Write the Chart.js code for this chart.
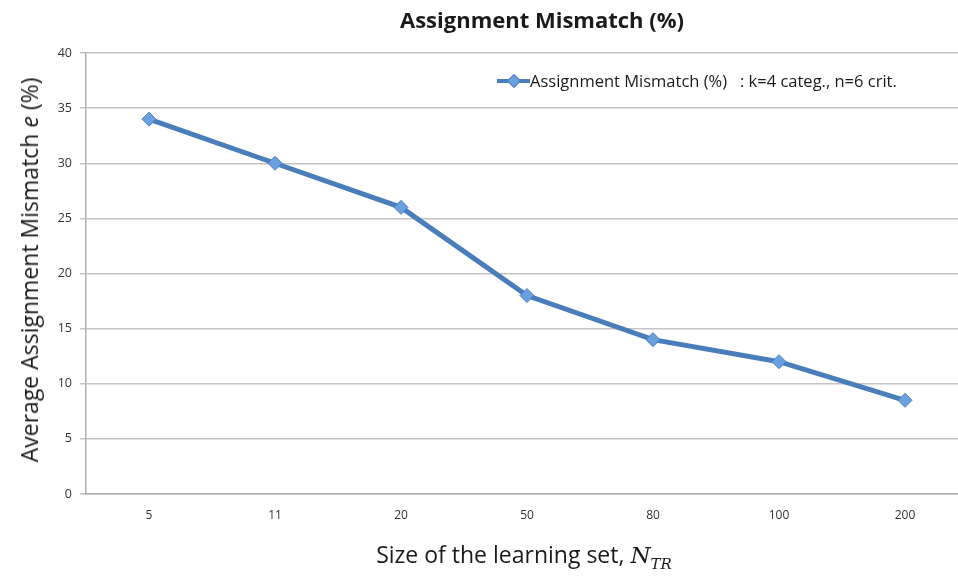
<!DOCTYPE html>
<html>
<head>
<meta charset="utf-8">
<script src="https://cdn.jsdelivr.net/npm/chart.js@4"></script>
<style>
  html, body { margin: 0; padding: 0; background: #fff; }
  #wrap { position: relative; width: 958px; height: 580px; overflow: hidden; background: #fff; }
  #c { position: absolute; left: 0; top: 0; }
  .txt { position: absolute; font-family: "Open Sans", "Liberation Sans", sans-serif; color: #1a1a1a; white-space: pre; }
  #title { left: 542px; top: 4px; transform: translateX(-50%); font-size: 22px; font-weight: bold; }
  #ytitle { left: 29px; top: 270px; transform: translate(-50%, -50%) rotate(-90deg); font-size: 23px; }
  #xtitle { left: 524px; top: 538px; transform: translateX(-50%); font-size: 23px; }
  #legend { left: 497px; top: 69px; font-size: 16.5px; display: flex; align-items: center; }
  .sw { position: relative; width: 33px; height: 12px; margin-right: 0px; }
  .sw .ln { position: absolute; left: 0; right: 0; top: 4px; height: 4px; background: #4a7ebb; }
  .sw .mk { position: absolute; left: 12px; top: 1px; width: 8px; height: 8px; background: #6a9fe0; border: 1px solid #4a7ebb; transform: rotate(45deg); }
  .m { font-family: "DejaVu Serif", serif; font-style: italic; }
</style>
</head>
<body>
<div id="wrap">
  <canvas id="c" width="976" height="580"></canvas>
  <div id="title" class="txt">Assignment Mismatch (%)</div>
  <div id="ytitle" class="txt">Average Assignment Mismatch <i>e</i> (%)</div>
  <div id="xtitle" class="txt">Size of the learning set, <span class="m">N</span><sub class="m" style="font-size:15px">TR</sub></div>
  <div id="legend" class="txt"><span class="sw"><span class="ln"></span><span class="mk"></span></span><span id="legtext"></span></div>
</div>
<script>
const categories = ["5", "11", "20", "50", "80", "100", "200"];
const mismatch = [34, 30, 26, 18, 14, 12, 8.5];
const seriesLabel = "Assignment Mismatch (%)   : k=4 categ., n=6 crit.";
const yTicks = [0, 5, 10, 15, 20, 25, 30, 35, 40];

document.getElementById('legtext').textContent = seriesLabel;

new Chart(document.getElementById('c'), {
  type: 'line',
  data: {
    labels: categories,
    datasets: [{
      label: seriesLabel,
      data: mismatch,
      borderColor: '#4a7ebb',
      borderWidth: 5,
      backgroundColor: '#6a9fe0',
      pointStyle: 'rectRot',
      pointRadius: 7,
      pointBorderColor: '#4a7ebb',
      pointBorderWidth: 1,
      tension: 0,
      fill: false
    }]
  },
  options: {
    responsive: false,
    animation: false,
    layout: { padding: { top: 53, right: 2, left: 0, bottom: 0 } },
    plugins: { legend: { display: false }, title: { display: false }, tooltip: { enabled: false } },
    scales: {
      x: {
        offset: true,
        grid: { display: false, drawTicks: false },
        border: { display: true, color: '#b0b0b0', width: 1.5 },
        ticks: { color: '#333', font: { family: "Open Sans", size: 12 }, padding: 14 },
        afterFit: (s) => { s.height = 86; }
      },
      y: {
        min: 0, max: 40,
        afterBuildTicks: (s) => { s.ticks = yTicks.map(v => ({ value: v })); },
        grid: { color: '#c4c4c4', lineWidth: 1.5, tickLength: 6 },
        border: { display: true, color: '#b0b0b0', width: 1.5 },
        ticks: { color: '#333', font: { family: "Open Sans", size: 12.5 }, padding: 8 },
        afterFit: (s) => { s.width = 86; }
      }
    }
  }
});
</script>
</body>
</html>
